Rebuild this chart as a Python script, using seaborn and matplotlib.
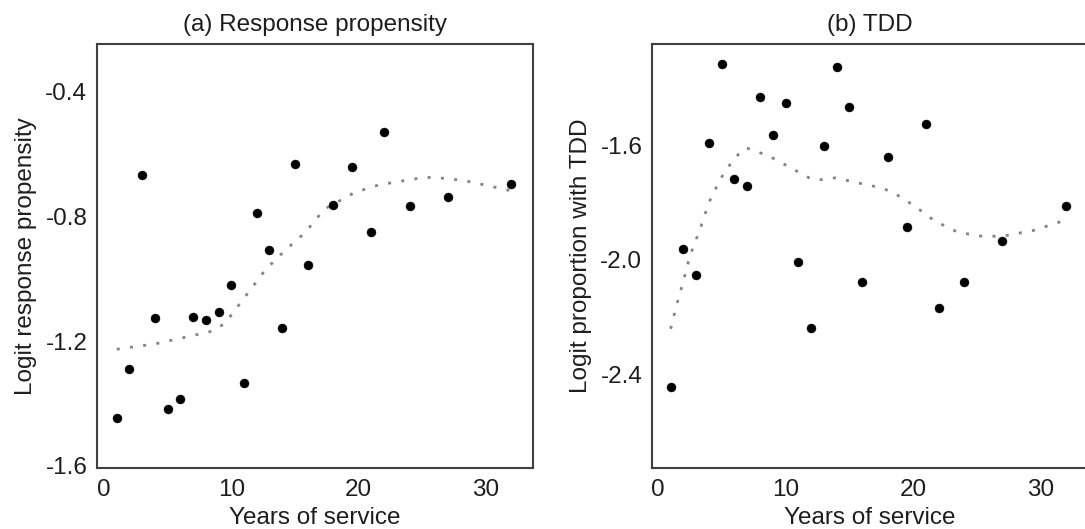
import matplotlib
matplotlib.use("Agg")
import matplotlib.pyplot as plt
import seaborn as sns
import pandas as pd

# ---- data ----
years = [1, 2, 3, 4, 5, 6, 7, 8, 9, 10, 11, 12, 13, 14, 15, 16, 18, 19.5, 21, 22, 24, 27, 32]

resp = [-1.446, -1.290, -0.667, -1.127, -1.419, -1.385, -1.122, -1.132, -1.107, -1.021,
        -1.334, -0.788, -0.909, -1.158, -0.631, -0.955, -0.763, -0.641, -0.849, -0.529,
        -0.768, -0.738, -0.697]

tdd = [-2.445, -1.962, -2.052, -1.593, -1.316, -1.719, -1.741, -1.433, -1.565, -1.454,
       -2.007, -2.239, -1.604, -1.327, -1.466, -2.079, -1.641, -1.886, -1.526, -2.167,
       -2.079, -1.934, -1.814]

smooth_a_x = [1, 4, 6, 8.5, 9.5, 10.8, 12.7, 14.3, 15.8, 17.3, 19.7, 21.6, 24.3, 25.8, 28.3, 32]
smooth_a_y = [-1.226, -1.209, -1.191, -1.168, -1.143, -1.073, -0.970, -0.906, -0.852, -0.777,
              -0.723, -0.699, -0.680, -0.674, -0.685, -0.718]

smooth_b_x = [1, 1.5, 2, 2.5, 3.3, 4, 4.9, 6, 6.9, 8.7, 10.4, 12, 13, 13.9, 15.7, 17.5, 18.5,
              20.1, 21.7, 23.5, 25.4, 27, 29.4, 31.3, 32]
smooth_b_y = [-2.241, -2.153, -2.075, -1.988, -1.894, -1.800, -1.718, -1.645, -1.609, -1.638,
              -1.679, -1.718, -1.721, -1.714, -1.732, -1.749, -1.767, -1.812, -1.865, -1.904,
              -1.918, -1.918, -1.898, -1.871, -1.860]

titles = ["(a) Response propensity", "(b) TDD"]
ylabels = ["Logit response propensity", "Logit proportion with TDD"]
xlabel = "Years of service"
xticks = [0, 10, 20, 30]
yticks_a = [-0.4, -0.8, -1.2, -1.6]
yticks_b = [-1.6, -2.0, -2.4]

# ---- style ----
sns.set_theme(style="white")
plt.rcParams["font.family"] = ["Liberation Sans", "DejaVu Sans"]
FS = 17.5
TXT = "#1e1e1e"

W, H = 1085, 529
fig = plt.figure(figsize=(W / 100, H / 100), dpi=100)
fig.patch.set_facecolor("white")

ax_a = fig.add_axes([97 / W, (H - 468) / H, 436 / W, 424 / H])
ax_b = fig.add_axes([652 / W, (H - 468) / H, 436 / W, 424 / H])

panels = [
    (ax_a, resp, smooth_a_x, smooth_a_y, yticks_a, (-1.607, -0.247), (-0.55, 33.7)),
    (ax_b, tdd, smooth_b_x, smooth_b_y, yticks_b, (-2.727, -1.247), (-0.46, 33.7)),
]

for i, (ax, yv, sx, sy, yt, ylim, xlim) in enumerate(panels):
    df_pts = pd.DataFrame({"x": years, "y": yv})
    df_sm = pd.DataFrame({"x": sx, "y": sy})
    sns.lineplot(data=df_sm, x="x", y="y", ax=ax, color="#858585", linewidth=2.0,
                 linestyle=(0, (1.1, 3.7)), zorder=2)
    sns.scatterplot(data=df_pts, x="x", y="y", ax=ax, color="black", s=42,
                    edgecolor="black", linewidth=0.3, zorder=3)
    ax.set_xlim(*xlim)
    ax.set_ylim(*ylim)
    ax.set_xticks(xticks)
    ax.set_yticks(yt)
    ax.set_xticklabels([str(t) for t in xticks])
    ax.set_yticklabels([f"{t:.1f}" for t in yt])
    ax.tick_params(axis="both", length=0, labelsize=FS, colors=TXT)
    ax.tick_params(axis="x", pad=8)
    ax.tick_params(axis="y", pad=7)
    ax.set_xlabel(xlabel, fontsize=FS, color=TXT, labelpad=4)
    ax.set_ylabel(ylabels[i], fontsize=FS, color=TXT, labelpad=6)
    ax.set_title(titles[i], fontsize=FS, color=TXT, pad=9)
    for sp in ax.spines.values():
        sp.set_visible(True)
        sp.set_color("#404040")
        sp.set_linewidth(1.5)
    ax.grid(False)

fig.savefig("out.png", dpi=100, facecolor="white")
